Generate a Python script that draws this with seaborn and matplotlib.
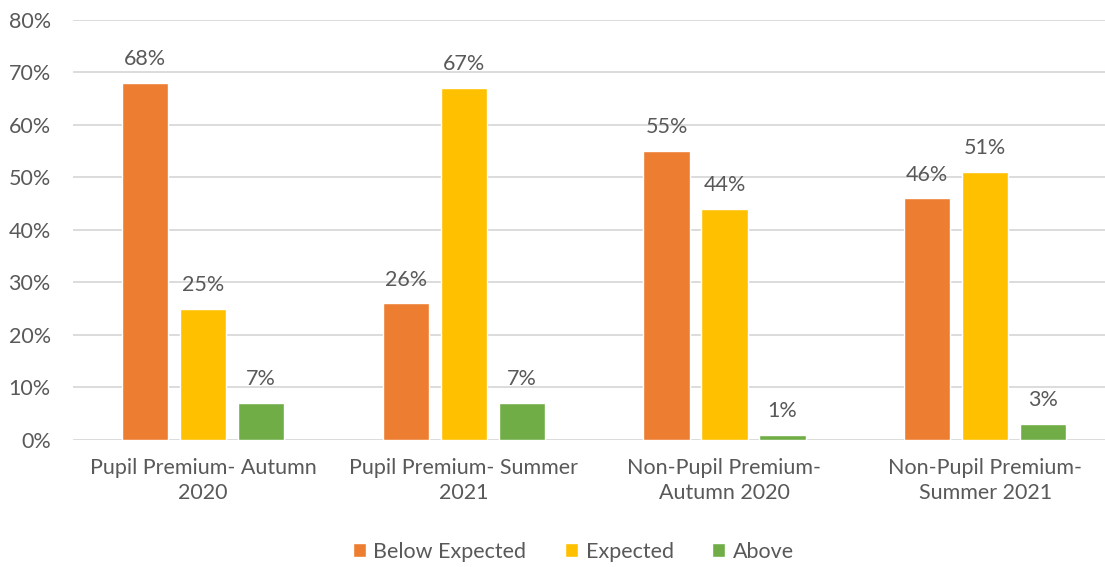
import pandas as pd
import numpy as np
import seaborn as sns
import matplotlib
import matplotlib.pyplot as plt
from matplotlib.ticker import PercentFormatter

# chart values (percent)
categories = ['Pupil Premium- Autumn\n2020', 'Pupil Premium- Summer\n2021',
              'Non-Pupil Premium-\nAutumn 2020', 'Non-Pupil Premium-\nSummer 2021']
below_expected = [68, 26, 55, 46]
expected = [25, 67, 44, 51]
above = [7, 7, 1, 3]
series = ['Below Expected', 'Expected', 'Above']
colors = ['#ED7D31', '#FFC000', '#70AD47']

df = pd.DataFrame({
    'Category': categories * 3,
    'Series': np.repeat(series, len(categories)),
    'Value': below_expected + expected + above,
})

sns.set_style('white')
matplotlib.rcParams['font.family'] = ['Lato', 'DejaVu Sans']
text_color = '#595959'
fs = 15.5

fig = plt.figure(figsize=(11.05, 5.67), dpi=100)
ax = fig.add_axes([0.066, 0.224, 0.934, 0.741])

sns.barplot(data=df, x='Category', y='Value', hue='Series', hue_order=series,
            palette=colors, width=0.667, gap=0.2, ax=ax, legend=True,
            saturation=1, zorder=3)

for cont in ax.containers:
    ax.bar_label(cont, fmt='%g%%', padding=10, fontsize=fs, color=text_color)

ax.set_ylim(0, 80)
ax.set_xlim(-0.5, 3.46)
ax.set_yticks(range(0, 81, 10))
ax.yaxis.set_major_formatter(PercentFormatter(decimals=0))
ax.grid(axis='y', color='#D9D9D9', linewidth=1.3, zorder=0)
ax.set_axisbelow(True)
for s in ax.spines.values():
    s.set_visible(False)
ax.tick_params(axis='both', length=0, labelsize=fs, labelcolor=text_color)
ax.tick_params(axis='x', pad=13)
ax.tick_params(axis='y', pad=16)
for lab in ax.get_xticklabels():
    lab.set_linespacing(1.3)
ax.set_xlabel('')
ax.set_ylabel('')

handles, labels = ax.get_legend_handles_labels()
ax.get_legend().remove()
fig.legend(handles, labels, loc='center', bbox_to_anchor=(0.519, 0.027), ncol=3,
           frameon=False, fontsize=fs, labelcolor=text_color,
           handlelength=0.6, handleheight=0.6, handletextpad=0.35, columnspacing=1.8)

plt.savefig('out.png', dpi=100)
